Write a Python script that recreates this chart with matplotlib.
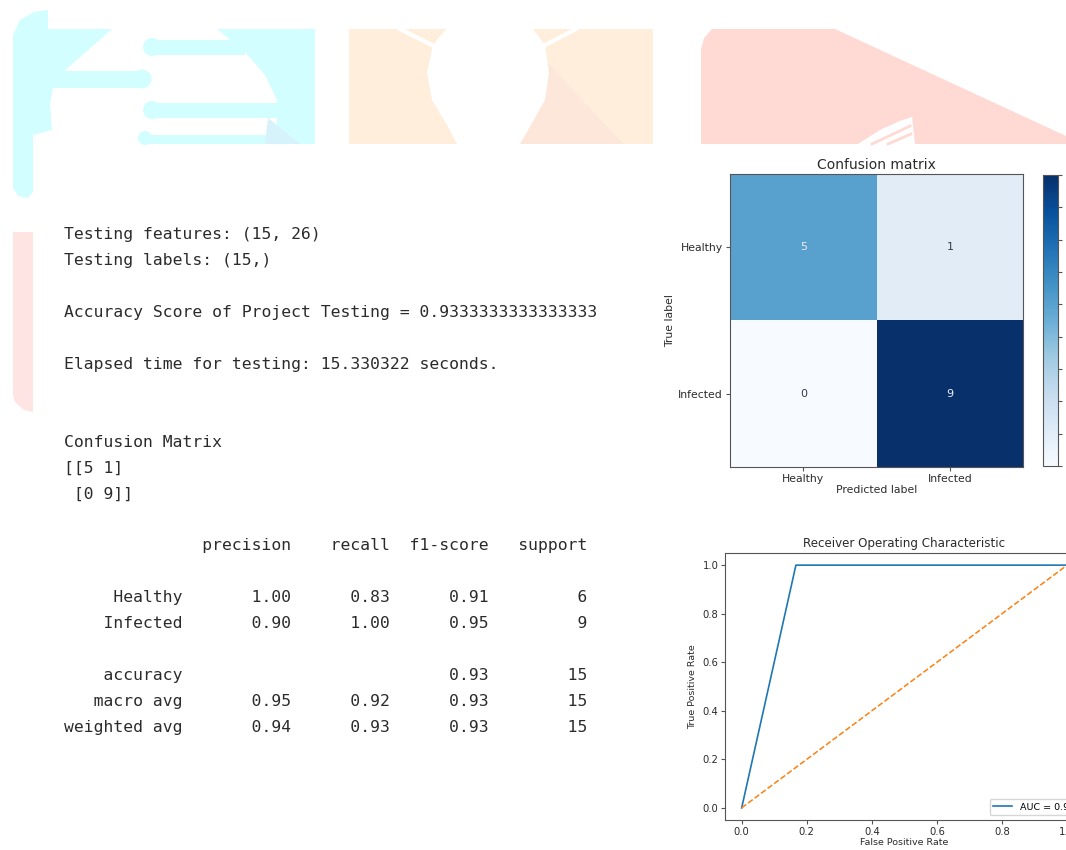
import numpy as np
import matplotlib
matplotlib.use("Agg")
import matplotlib.pyplot as plt
from matplotlib.patches import Polygon, Circle, Rectangle

# test run results
test_features_shape = (15, 26)
test_labels_shape = (15,)
accuracy = 0.9333333333333333
elapsed = 15.330322
class_names = ["Healthy", "Infected"]
cm = np.array([[5, 1], [0, 9]])
precision = [1.00, 0.90]
recall = [0.83, 1.00]
f1 = [0.91, 0.95]
support = [6, 9]
macro_avg = [0.95, 0.92, 0.93]
weighted_avg = [0.94, 0.93, 0.93]
fpr = [0.0, 1 / 6, 1.0]
tpr = [0.0, 1.0, 1.0]
roc_auc = np.trapezoid(tpr, fpr)

W, H = 1066, 850
TEXT = "#2b2b2b"
EDGE = "#555555"

fig = plt.figure(figsize=(W / 100, H / 100), dpi=100)
fig.patch.set_facecolor("white")

# pixel-space layer for the banner shapes and the console printout
bg = fig.add_axes([0, 0, 1, 1], zorder=-1)
bg.set_xlim(0, W)
bg.set_ylim(H, 0)
bg.axis("off")

cyan = "#d3feff"
peach = "#ffeedc"
pink = "#ffdad4"

# cyan block with its cut-out circuit lines
bg.add_patch(Polygon([(13, 35), (20, 20), (34, 12), (48, 10), (48, 29), (315, 29),
                      (315, 144), (33, 144), (33, 192), (28, 198), (18, 196), (13, 188)],
                     closed=True, fc=cyan, ec="none"))
bg.add_patch(Polygon([(112, 29), (217, 29), (245, 52), (265, 75), (277, 100), (277, 135),
                      (150, 135), (150, 144), (33, 144), (33, 135), (52, 130), (50, 105),
                      (53, 88), (63, 72)], closed=True, fc="white", ec="none"))
bg.add_patch(Rectangle((148, 40), 97, 15, fc=cyan, ec="none"))
bg.add_patch(Circle((152, 47), 9, fc=cyan, ec="none"))
bg.add_patch(Rectangle((40, 71), 102, 17, fc=cyan, ec="none"))
bg.add_patch(Circle((142, 79), 9.5, fc=cyan, ec="none"))
bg.add_patch(Rectangle((148, 103), 129, 15, fc=cyan, ec="none"))
bg.add_patch(Circle((152, 110), 9, fc=cyan, ec="none"))
bg.add_patch(Circle((145, 138), 7, fc=cyan, ec="none"))
bg.add_patch(Polygon([(268, 118), (300, 144), (265, 144)], closed=True, fc="#d6f2fb", ec="none"))

# peach block with the balloon cut-out
bg.add_patch(Rectangle((349, 29), 304, 115, fc=peach, ec="none"))
bg.add_patch(Polygon([(547, 62), (623, 144), (520, 144), (540, 100)], closed=True,
                     fc="#fde6da", ec="none"))
bg.add_patch(Polygon([(446, 29), (433, 45), (427, 73), (432, 100), (447, 125), (457, 144),
                      (520, 144), (531, 125), (545, 100), (549, 73), (545, 45), (533, 29)],
                     closed=True, fc="white", ec="none"))
bg.plot([400, 432], [29, 45], color="white", lw=3)
bg.plot([576, 545], [29, 45], color="white", lw=3)

# pink block
bg.add_patch(Polygon([(712, 29), (835, 29), (1066, 136), (1066, 144), (701, 144),
                      (701, 50), (704, 38)], closed=True, fc=pink, ec="none"))
bg.add_patch(Polygon([(858, 144), (880, 130), (900, 121), (912, 117), (915, 144)],
                     closed=True, fc="white", ec="none"))
bg.plot([872, 910], [144, 126], color=pink, lw=2)
bg.plot([888, 911], [144, 134], color=pink, lw=2)

# pink side bar
bg.add_patch(Polygon([(13, 232), (33, 232), (33, 412), (24, 410), (15, 402), (13, 395)],
                     closed=True, fc="#ffe4e4", ec="none"))

# console printout
lines = [
    f"Testing features: {test_features_shape}",
    f"Testing labels: {test_labels_shape}",
    "",
    f"Accuracy Score of Project Testing = {accuracy}",
    "",
    f"Elapsed time for testing: {elapsed} seconds.",
    "",
    "",
    "Confusion Matrix",
]
lines += str(cm).split("\n")
lines.append("")

width = max(len(n) for n in class_names + ["weighted avg"])
lines.append(" " * width + " " + "".join(f" {h:>9}" for h in
                                         ["precision", "recall", "f1-score", "support"]))
lines.append("")
for name, p, r, f, s in zip(class_names, precision, recall, f1, support):
    lines.append(f"{name:>{width}} " + f" {p:>9.2f} {r:>9.2f} {f:>9.2f} {s:>9}")
lines.append("")
total = sum(support)
lines.append(f"{'accuracy':>{width}} " + f" {'':>9} {'':>9} {accuracy:>9.2f} {total:>9}")
for name, vals in [("macro avg", macro_avg), ("weighted avg", weighted_avg)]:
    lines.append(f"{name:>{width}} " + "".join(f" {v:>9.2f}" for v in vals) + f" {total:>9}")

step = (726 - 233) / 19
for i, line in enumerate(lines):
    if line:
        bg.text(64, 233 + i * step + 6, line, family="DejaVu Sans Mono", fontsize=11.8,
                color=TEXT, va="baseline", ha="left")

# confusion matrix heatmap
ax_cm = fig.add_axes([730 / W, 1 - 466.7 / H, 293.3 / W, 292.4 / H])
im = ax_cm.imshow(cm, cmap="Blues", interpolation="nearest", aspect="auto")
ax_cm.set_title("Confusion matrix", fontsize=10, color=TEXT, pad=4)
ticks = np.arange(len(class_names))
ax_cm.set_xticks(ticks, class_names, fontsize=7.8)
ax_cm.set_yticks(ticks, class_names, fontsize=7.8)
ax_cm.set_xlabel("Predicted label", fontsize=7.8, color=TEXT, labelpad=1)
ax_cm.set_ylabel("True label", fontsize=7.8, color=TEXT, labelpad=2)
ax_cm.tick_params(length=3, pad=2, colors=EDGE, labelcolor=TEXT)
thresh = cm.max() / 2
for i in range(cm.shape[0]):
    for j in range(cm.shape[1]):
        ax_cm.text(j, i, format(cm[i, j], "d"), ha="center", va="center", fontsize=8,
                   color="#e8eef8" if cm[i, j] > thresh else "#333a48")
for sp in ax_cm.spines.values():
    sp.set_color(EDGE)

cax = fig.add_axes([1043 / W, 1 - 466 / H, 14.5 / W, 291 / H])
cb = fig.colorbar(im, cax=cax, ticks=range(10))
cb.outline.set_edgecolor(EDGE)
cax.tick_params(length=3, colors=EDGE, labelsize=7.8, labelcolor=TEXT)

# ROC curve
ax_roc = fig.add_axes([725.4 / W, 1 - 820 / H, 358 / W, 267 / H])
ax_roc.plot(fpr, tpr, color="tab:blue", lw=1.2, label="AUC = %0.2f" % roc_auc)
ax_roc.plot([0, 1], [0, 1], "--", color="tab:orange", lw=1.1)
ax_roc.set_title("Receiver Operating Characteristic", fontsize=8.6, color=TEXT, pad=4)
ax_roc.set_xlabel("False Positive Rate", fontsize=6.8, color=TEXT, labelpad=1)
ax_roc.set_ylabel("True Positive Rate", fontsize=6.8, color=TEXT, labelpad=4)
ax_roc.set_xticks([0, 0.2, 0.4, 0.6, 0.8, 1.0])
ax_roc.set_yticks([0, 0.2, 0.4, 0.6, 0.8, 1.0])
ax_roc.tick_params(labelsize=7.2, length=3, pad=2, colors=EDGE, labelcolor=TEXT)
ax_roc.legend(loc="lower right", fontsize=6.8)
for sp in ax_roc.spines.values():
    sp.set_color(EDGE)

fig.savefig("out.png", dpi=100)
